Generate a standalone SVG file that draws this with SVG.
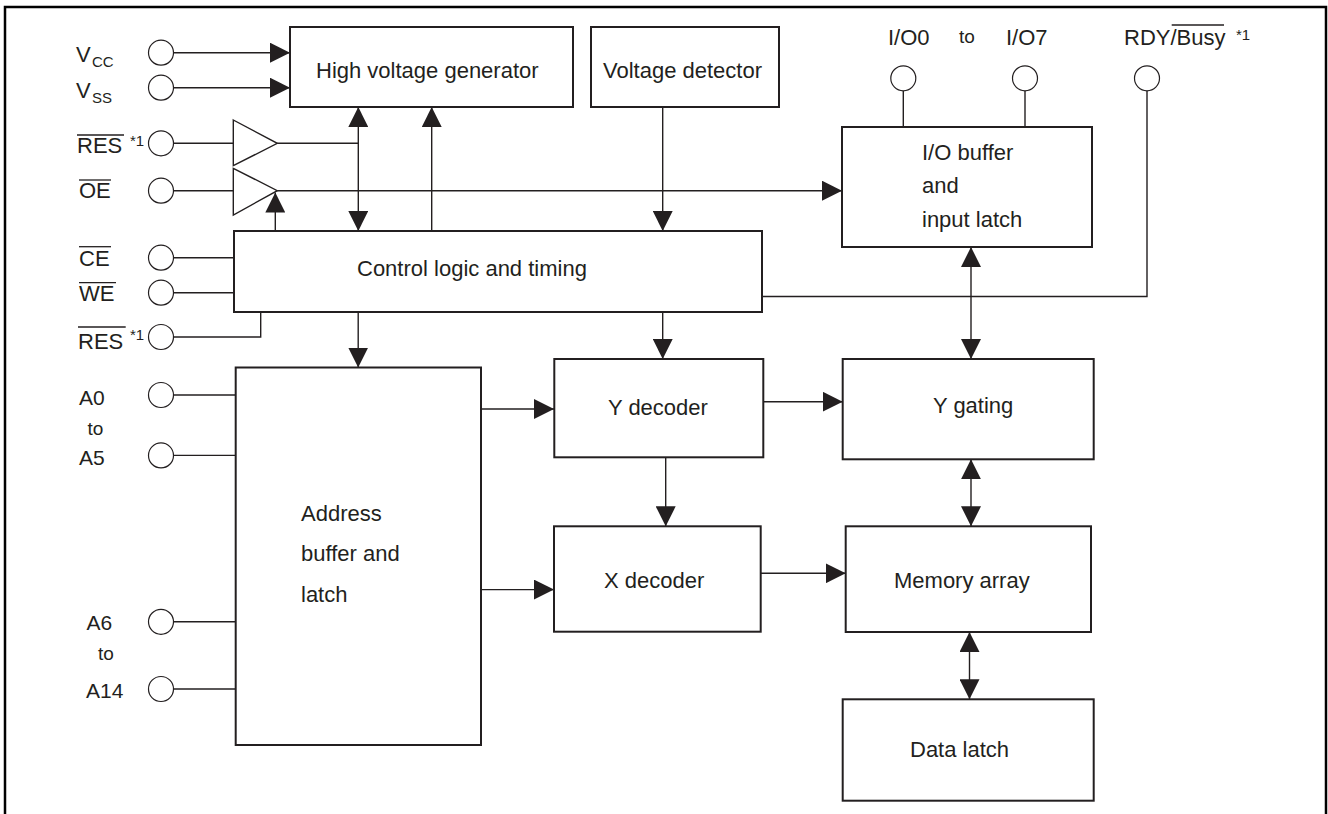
<svg xmlns="http://www.w3.org/2000/svg" width="1328" height="814" viewBox="0 0 1328 814">
<style>
text{font-family:"Liberation Sans",Arial,sans-serif;fill:#231f20;font-size:22px}
.sm{font-size:15px}
.to{font-size:19px}
.pinl{font-size:21px}
.box{fill:#fff;stroke:#231f20;stroke-width:2}
.pin{fill:#fff;stroke:#231f20;stroke-width:1.2}
.ln{fill:none;stroke:#231f20;stroke-width:1.4}
.arr{fill:none;stroke:#231f20;stroke-width:1.4;marker-end:url(#ah)}
.arr2{fill:none;stroke:#231f20;stroke-width:1.4;marker-end:url(#ah);marker-start:url(#ah)}
.ov{stroke:#231f20;stroke-width:1.3}
</style>
<defs>
<marker id="ah" markerUnits="userSpaceOnUse" markerWidth="20" markerHeight="20" refX="20" refY="10" orient="auto-start-reverse" viewBox="0 0 20 20">
<path d="M0,0 L20,10 L0,20 z" fill="#231f20"/>
</marker>
</defs>
<rect width="1328" height="814" fill="#fff"/>
<path d="M5,814 V7 H1326 V814" fill="none" stroke="#000" stroke-width="2.5"/>

<g id="connectors">
<!-- Vcc / Vss -->
<path class="arr" d="M173.5,52.7 H290"/>
<path class="arr" d="M173.5,87.7 H290"/>
<!-- RES to buffer -->
<path class="ln" d="M173.5,143.3 H233.3"/>
<path class="ln" d="M277.3,143.3 H358.3"/>
<!-- OE -->
<path class="ln" d="M173.5,190.7 H233.3"/>
<path class="arr" d="M277.3,190.7 H842"/>
<!-- control to OE buffer -->
<path class="arr" d="M275.3,231 V192.5"/>
<!-- HV gen <-> control -->
<path class="arr2" d="M358.3,107 V231"/>
<path class="arr" d="M431.7,231 V107"/>
<!-- Voltage detector -> control -->
<path class="arr" d="M662.7,107 V231"/>
<!-- CE, WE -->
<path class="ln" d="M173.5,257.7 H234"/>
<path class="ln" d="M173.5,292.7 H234"/>
<!-- RES2 -->
<path class="ln" d="M173.5,337 H260.7 V312"/>
<!-- I/O pins -->
<path class="ln" d="M903.3,90.8 V127"/>
<path class="ln" d="M1025,90.8 V127"/>
<!-- RDY/Busy -->
<path class="ln" d="M1147,90.8 V296.5 H762"/>
<!-- I/O buffer <-> Y gating -->
<path class="arr2" d="M971,247 V359"/>
<!-- control -> address, y decoder -->
<path class="arr" d="M358.2,312 V367.5"/>
<path class="arr" d="M662.7,312 V359"/>
<!-- A pins -->
<path class="ln" d="M174,395 H235.7"/>
<path class="ln" d="M174,455.4 H235.7"/>
<path class="ln" d="M174,621.8 H235.7"/>
<path class="ln" d="M174,689 H235.7"/>
<!-- address -> decoders -->
<path class="arr" d="M481,409 H554"/>
<path class="arr" d="M481,589.6 H554"/>
<!-- Y decoder -> Y gating, X decoder -->
<path class="arr" d="M761.7,401.7 H842.7"/>
<path class="arr" d="M665.7,457.3 V526.3"/>
<!-- X decoder -> Memory -->
<path class="arr" d="M760.7,573.3 H845.7"/>
<!-- Y gating <-> Memory -->
<path class="arr2" d="M971,459.3 V526.3"/>
<!-- Memory <-> Data latch -->
<path class="arr2" d="M969.5,632 V699.3"/>
</g>

<g id="buffers">
<path class="ln" d="M233.3,120 L277.3,143.3 L233.3,165.7 Z" fill="#fff"/>
<path class="ln" d="M233.3,168.3 L277.3,190.7 L233.3,215 Z" fill="#fff"/>
</g>

<g id="hv-gen">
<rect class="box" x="290" y="27" width="283" height="80"/>
<text x="316" y="78">High voltage generator</text>
</g>
<g id="volt-det">
<rect class="box" x="591" y="27" width="188" height="80"/>
<text x="603" y="78">Voltage detector</text>
</g>
<g id="control">
<rect class="box" x="234" y="231" width="528" height="81"/>
<text x="357" y="276">Control logic and timing</text>
</g>
<g id="io-buffer">
<rect class="box" x="842" y="127" width="250" height="120"/>
<text x="922" y="160">I/O buffer</text>
<text x="922" y="193">and</text>
<text x="922" y="227">input latch</text>
</g>
<g id="address">
<rect class="box" x="235.7" y="367.5" width="245.3" height="377.5"/>
<text x="301" y="520.5">Address</text>
<text x="301" y="561">buffer and</text>
<text x="301" y="602">latch</text>
</g>
<g id="y-decoder">
<rect class="box" x="554.3" y="359" width="209" height="98.3"/>
<text x="608" y="415">Y decoder</text>
</g>
<g id="y-gating">
<rect class="box" x="842.7" y="359" width="251" height="100.3"/>
<text x="933" y="413">Y gating</text>
</g>
<g id="x-decoder">
<rect class="box" x="554" y="526.3" width="206.7" height="105.4"/>
<text x="604" y="588">X decoder</text>
</g>
<g id="memory">
<rect class="box" x="845.7" y="526.3" width="245.3" height="105.7"/>
<text x="894" y="588">Memory array</text>
</g>
<g id="data-latch">
<rect class="box" x="842.7" y="699.3" width="251" height="101.4"/>
<text x="910" y="757">Data latch</text>
</g>

<g id="pins">
<circle class="pin" cx="161" cy="52.7" r="12.5"/>
<circle class="pin" cx="161" cy="87.7" r="12.5"/>
<circle class="pin" cx="161" cy="143.3" r="12.5"/>
<circle class="pin" cx="161" cy="190.7" r="12.5"/>
<circle class="pin" cx="161" cy="257.7" r="12.5"/>
<circle class="pin" cx="161" cy="292.7" r="12.5"/>
<circle class="pin" cx="161" cy="337" r="12.5"/>
<circle class="pin" cx="161" cy="395" r="12.5"/>
<circle class="pin" cx="161" cy="455.4" r="12.5"/>
<circle class="pin" cx="161" cy="621.8" r="12.5"/>
<circle class="pin" cx="161" cy="689" r="12.5"/>
<circle class="pin" cx="903.3" cy="78.3" r="12.5"/>
<circle class="pin" cx="1025" cy="78.3" r="12.5"/>
<circle class="pin" cx="1147" cy="78.3" r="12.5"/>
</g>

<g id="labels">
<text x="76" y="62">V</text><text class="sm" x="92" y="67">CC</text>
<text x="76" y="98">V</text><text class="sm" x="92" y="103">SS</text>
<text x="77" y="153.3">RES</text><line class="ov" x1="77" y1="135" x2="124" y2="135"/>
<text class="sm" x="130" y="146">*1</text>
<text x="79" y="198.3">OE</text><line class="ov" x1="79" y1="180" x2="111" y2="180"/>
<text x="79" y="266">CE</text><line class="ov" x1="79" y1="246.7" x2="111" y2="246.7"/>
<text x="79" y="301">WE</text><line class="ov" x1="79" y1="282.7" x2="116" y2="282.7"/>
<text x="78" y="348.6">RES</text><line class="ov" x1="78" y1="327" x2="125.7" y2="327"/>
<text class="sm" x="130" y="340">*1</text>
<text class="pinl" x="79" y="404.6">A0</text>
<text class="to" x="87.5" y="435">to</text>
<text class="pinl" x="79" y="465">A5</text>
<text class="pinl" x="86.4" y="630">A6</text>
<text class="to" x="98" y="660">to</text>
<text class="pinl" x="86" y="697.5">A14</text>
<text x="888" y="45">I/O0</text>
<text class="to" x="959" y="42.5">to</text>
<text x="1006" y="45">I/O7</text>
<text x="1124" y="45">RDY/Busy</text><line class="ov" x1="1171.7" y1="25" x2="1224" y2="25"/>
<text class="sm" x="1236" y="40">*1</text>
</g>
</svg>
